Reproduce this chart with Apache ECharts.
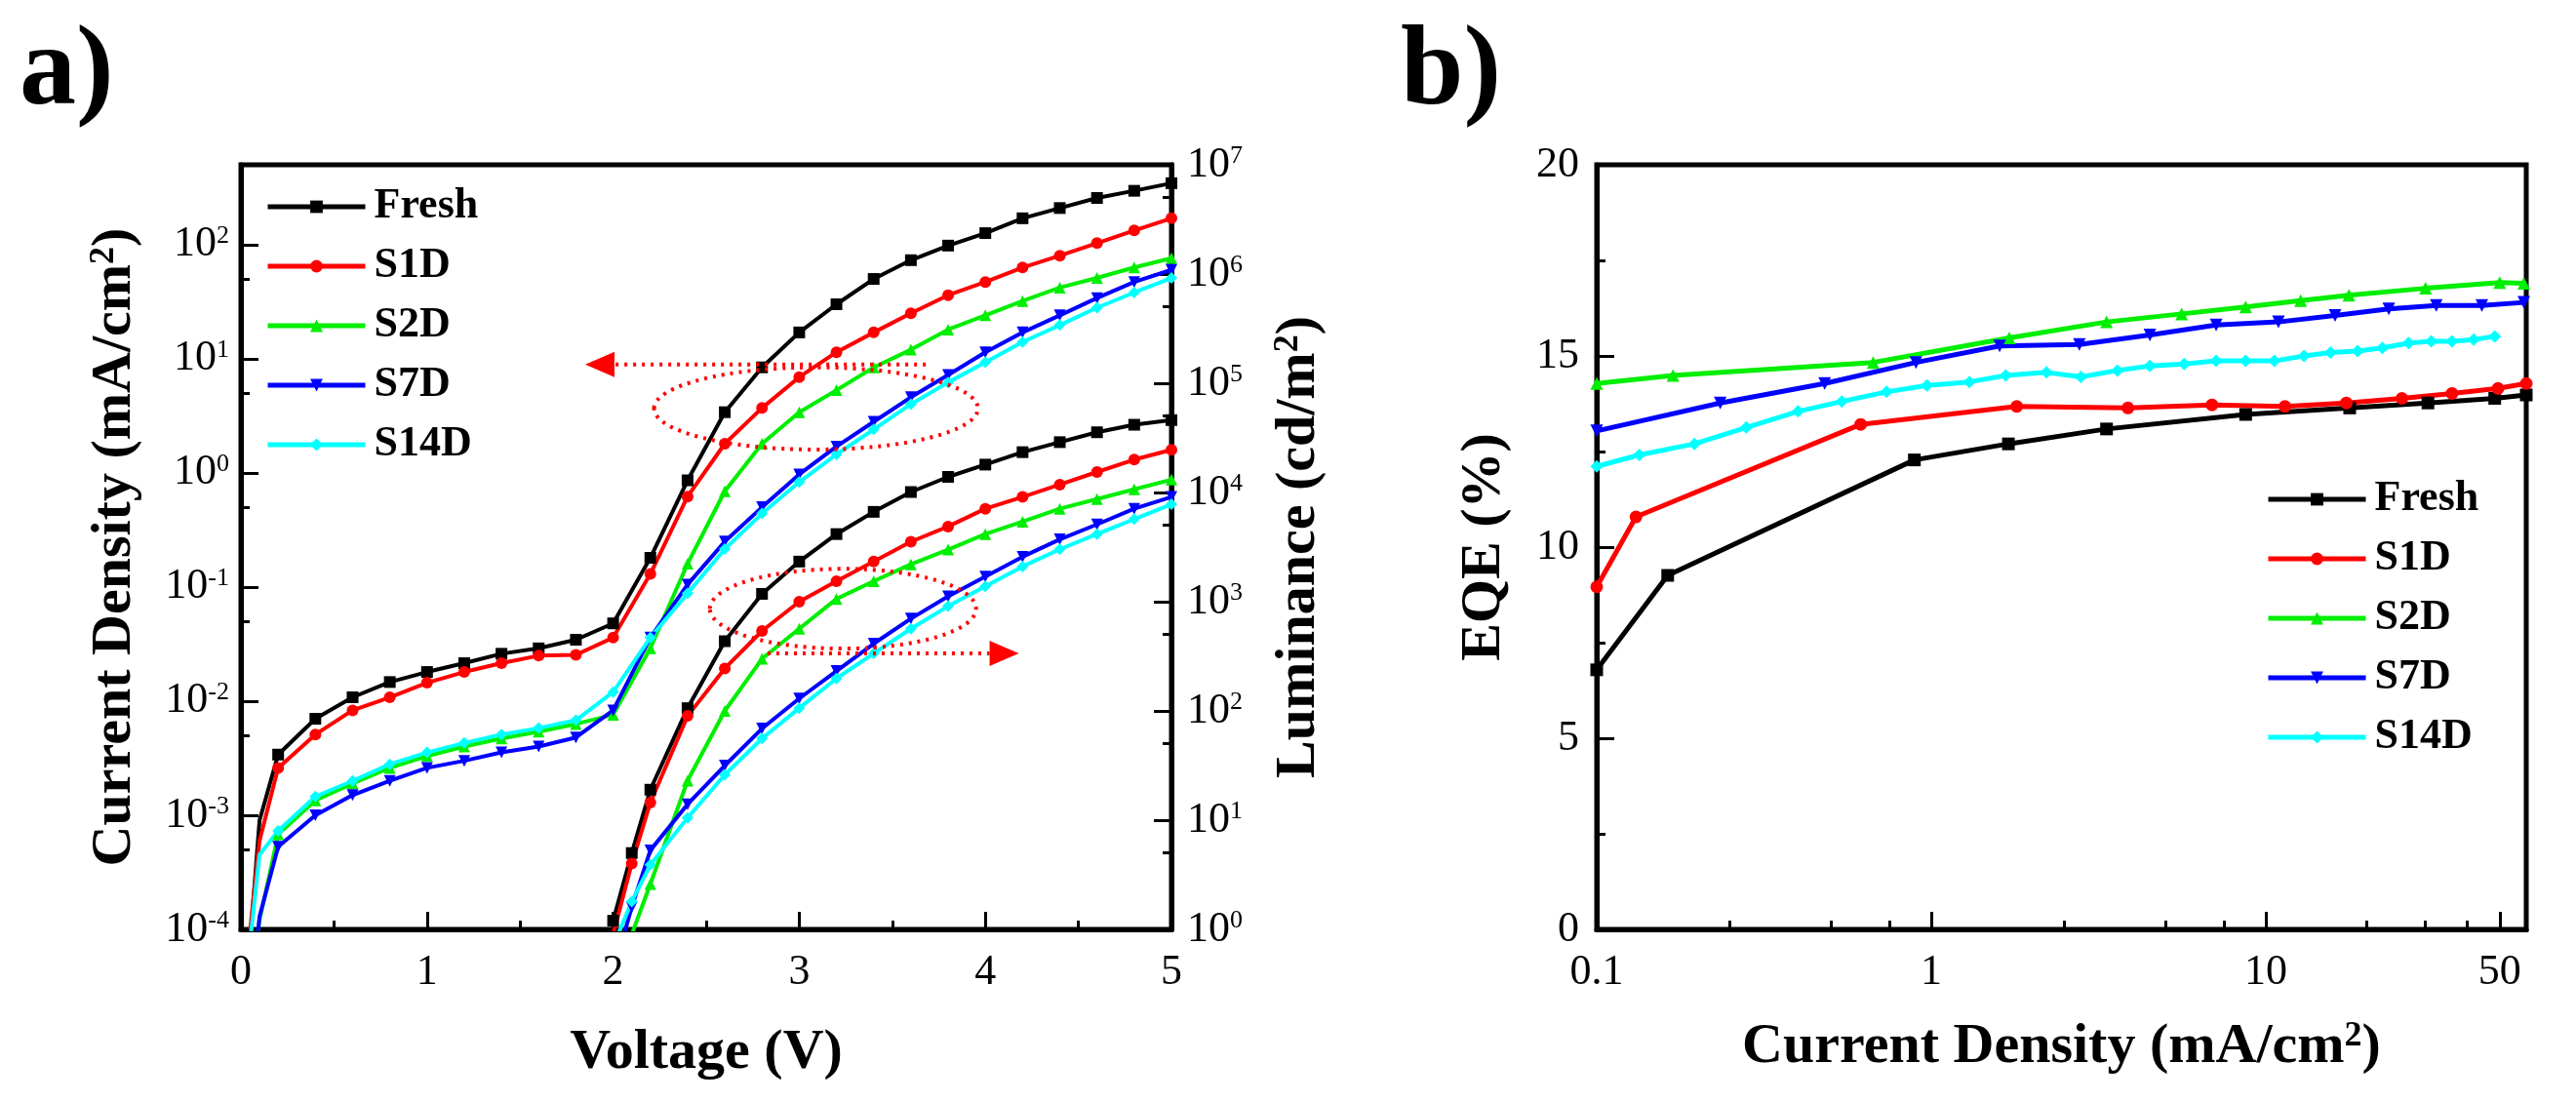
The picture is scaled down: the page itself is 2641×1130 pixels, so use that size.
<!DOCTYPE html>
<html>
<head>
<meta charset="utf-8">
<script src="https://cdn.jsdelivr.net/npm/echarts@6/dist/echarts.min.js"></script>
<style>
html, body { margin: 0; padding: 0; background: #fff; }
#main { width: 2641px; height: 1130px; }
</style>
</head>
<body>
<div id="main"></div>
<script>
// sample names / look
var names = ['Fresh', 'S1D', 'S2D', 'S7D', 'S14D'];
var colors = ['#000000', '#ff0000', '#00ee00', '#0000ff', '#00ffff'];
var symbols = ['rect', 'circle', 'triangle', 'triangle', 'diamond'];
var rotates = [0, 0, 0, 180, 0];

// a) current density vs voltage (mA/cm2)
var jVolts = [0.05, 0.1, 0.2, 0.4, 0.6, 0.8, 1.0, 1.2, 1.4, 1.6, 1.8, 2.0, 2.2, 2.4, 2.6, 2.8, 3.0, 3.2, 3.4, 3.6, 3.8, 4.0, 4.2, 4.4, 4.6, 4.8, 5.0];
var jFresh = [8e-5, 9e-4, 3.4e-3, 7e-3, 1.08e-2, 1.47e-2, 1.8e-2, 2.15e-2, 2.6e-2, 2.9e-2, 3.45e-2, 4.8e-2, 0.18, 0.86, 3.4, 8.4, 17, 30, 50, 73, 98, 126, 170, 209, 256, 296, 345];
var jS1D = [1.0e-4, 6e-4, 2.6e-3, 5.1e-3, 8.3e-3, 1.08e-2, 1.45e-2, 1.8e-2, 2.15e-2, 2.5e-2, 2.54e-2, 3.6e-2, 0.13, 0.62, 1.8, 3.7, 6.9, 11.4, 17, 25, 36, 47, 63, 80, 103, 133, 170];
var jS2D = [3e-5, 1.2e-4, 6.8e-4, 1.35e-3, 1.9e-3, 2.6e-3, 3.3e-3, 4.0e-3, 4.7e-3, 5.4e-3, 6.3e-3, 7.6e-3, 0.029, 0.16, 0.69, 1.8, 3.4, 5.3, 8.4, 12, 18, 24, 32, 42, 51, 63, 76];
var jS7D = [2e-5, 1.3e-4, 5.3e-4, 1.0e-3, 1.5e-3, 2.0e-3, 2.6e-3, 3.0e-3, 3.55e-3, 4.0e-3, 4.8e-3, 8.3e-3, 0.036, 0.105, 0.25, 0.50, 0.97, 1.7, 2.8, 4.6, 7.2, 11.4, 17, 24, 34, 47, 60];
var jS14D = [8e-5, 4.5e-4, 7.3e-4, 1.46e-3, 2.0e-3, 2.8e-3, 3.55e-3, 4.3e-3, 5.1e-3, 5.8e-3, 6.8e-3, 0.012, 0.036, 0.088, 0.215, 0.44, 0.83, 1.45, 2.4, 4.0, 6.2, 9.3, 14, 19.7, 28, 38, 51];

// a) luminance vs voltage (cd/m2)
var lVolts = [2.0, 2.1, 2.2, 2.4, 2.6, 2.8, 3.0, 3.2, 3.4, 3.6, 3.8, 4.0, 4.2, 4.4, 4.6, 4.8, 5.0];
var lFresh = [1.2, 5, 19, 106, 435, 1180, 2330, 4160, 6650, 10100, 13900, 18000, 23400, 28900, 35600, 41700, 46000];
var lS1D = [0.9, 4.0, 14.5, 90, 245, 540, 1000, 1540, 2330, 3540, 4880, 7100, 9100, 11800, 15400, 20000, 24600];
var lS2D = [0.25, 0.9, 2.6, 23, 100, 300, 565, 1060, 1540, 2200, 3000, 4160, 5400, 7100, 8700, 10700, 13100];
var lS7D = [0.4, 1.6, 5.3, 14, 31.6, 69, 130, 232, 413, 700, 1120, 1700, 2580, 3720, 5100, 7100, 9100];
var lS14D = [0.7, 1.8, 3.9, 10.5, 26, 56, 106, 198, 336, 565, 910, 1380, 2100, 3020, 4160, 5700, 7800];

// b) EQE (%) vs current density
var eqeJFresh = [0.1, 0.163, 0.89, 1.7, 3.34, 8.7, 17.8, 30.5, 48.3, 60];
var eqeFresh = [6.79, 9.26, 12.28, 12.7, 13.09, 13.47, 13.64, 13.77, 13.89, 13.98];
var eqeJS1D = [0.1, 0.131, 0.615, 1.80, 3.87, 6.9, 11.4, 17.4, 25.5, 36, 49.4, 60];
var eqeS1D = [8.96, 10.79, 13.21, 13.68, 13.64, 13.72, 13.68, 13.77, 13.89, 14.02, 14.15, 14.28];
var eqeJS2D = [0.1, 0.169, 0.67, 1.71, 3.34, 5.6, 8.7, 12.7, 17.7, 30, 50, 59];
var eqeS2D = [14.28, 14.49, 14.83, 15.47, 15.89, 16.1, 16.28, 16.45, 16.59, 16.77, 16.92, 16.9];
var eqeJS7D = [0.1, 0.234, 0.48, 0.90, 1.60, 2.77, 4.5, 7.1, 10.9, 16.1, 23.3, 32.3, 44.2, 59];
var eqeS7D = [13.04, 13.77, 14.28, 14.83, 15.26, 15.30, 15.55, 15.81, 15.89, 16.06, 16.23, 16.32, 16.32, 16.4];
var eqeJS14D = [0.1, 0.134, 0.196, 0.28, 0.40, 0.54, 0.735, 0.97, 1.30, 1.67, 2.21, 2.8, 3.6, 4.5, 5.7, 7.1, 8.7, 10.6, 13.0, 15.6, 18.8, 22.3, 26.7, 31.2, 36, 41.8, 48.3];
var eqeS14D = [12.11, 12.41, 12.70, 13.13, 13.55, 13.81, 14.06, 14.23, 14.32, 14.49, 14.57, 14.45, 14.62, 14.74, 14.79, 14.87, 14.87, 14.87, 15.0, 15.09, 15.13, 15.21, 15.34, 15.38, 15.38, 15.43, 15.51];

// tick values
var jTicks = [1e-4, 1e-3, 1e-2, 1e-1, 1, 10, 100];
var jMinor = [5e-4, 5e-3, 5e-2, 0.5, 5, 50];
var lTicks = [1, 10, 100, 1e3, 1e4, 1e5, 1e6, 1e7];
var lMinor = [5, 50, 500, 5e3, 5e4, 5e5, 5e6];
var eqeXTicks = [0.1, 1, 10, 50];
var eqeXMinor = [0.25, 0.5, 0.75, 2.5, 5, 7.5, 20, 30, 40];

// dotted "which axis" markers in panel a
var ellipseJ = { v: [2.22, 3.96], y: [1.6, 8.4] };
var arrowJ = { v: [3.68, 1.85], y: 8.9 };
var ellipseL = { v: [2.52, 3.95], y: [372, 2000] };
var arrowL = { v: [2.83, 4.18], y: 336 };

var FONT = '"Liberation Serif", "Times New Roman", serif';
var jData = [jFresh, jS1D, jS2D, jS7D, jS14D];
var lData = [lFresh, lS1D, lS2D, lS7D, lS14D];
var eqeJ = [eqeJFresh, eqeJS1D, eqeJS2D, eqeJS7D, eqeJS14D];
var eqeV = [eqeFresh, eqeS1D, eqeS2D, eqeS7D, eqeS14D];

var lineAx = { show: true, onZero: false, lineStyle: { color: '#000', width: 5 } };
var tickAx = { show: true, inside: true, length: 18, lineStyle: { color: '#000', width: 3 } };
var minorAx = { show: true, splitNumber: 2, length: 9, lineStyle: { color: '#000', width: 3 } };
var labelFont = { fontFamily: FONT, fontSize: 44, color: '#000' };
var titleFont = { fontFamily: FONT, fontSize: 58, fontWeight: 'bold', color: '#000',
    rich: { s: { fontFamily: FONT, fontSize: 36, fontWeight: 'bold', color: '#000', verticalAlign: 'top' } } };
var supRich = { s: { fontFamily: FONT, fontSize: 26, color: '#000', verticalAlign: 'top' } };

function powLabel(v) {
    return '10{s|' + Math.round(Math.log10(v)) + '}';
}

function minorAxis(grid, type, min, max, vals, pos) {
    return {
        gridIndex: grid, type: type, logBase: 10, min: min, max: max, position: pos,
        axisLine: { show: false }, axisLabel: { show: false }, splitLine: { show: false },
        axisTick: { show: true, inside: true, length: 9, customValues: vals, lineStyle: { color: '#000', width: 3 } }
    };
}

// no markers on the first sub-0.2 V points (the original only marks every 0.2 V)
function jSymbolSize(val) {
    return val[0] < 0.15 ? 0 : 12;
}

var series = [];
names.forEach(function (n, k) {
    var common = {
        name: n, type: 'line', symbol: symbols[k], symbolRotate: rotates[k],
        showAllSymbol: true, animation: false, clip: true,
        itemStyle: { color: colors[k] }
    };
    series.push(Object.assign({}, common, {
        xAxisIndex: 0, yAxisIndex: 0, symbolSize: jSymbolSize,
        lineStyle: { width: 4, color: colors[k] },
        data: jVolts.map(function (v, i) { return [v, jData[k][i]]; })
    }));
    series.push(Object.assign({}, common, {
        xAxisIndex: 0, yAxisIndex: 1, symbolSize: 12,
        lineStyle: { width: 4, color: colors[k] },
        data: lVolts.map(function (v, i) { return [v, lData[k][i]]; })
    }));
    series.push(Object.assign({}, common, {
        xAxisIndex: 1, yAxisIndex: 4, symbolSize: 13,
        lineStyle: { width: 5, color: colors[k] },
        data: eqeJ[k].map(function (v, i) { return [v, eqeV[k][i]]; })
    }));
});

var legendBase = {
    data: names, orient: 'vertical', itemWidth: 100, itemHeight: 16, itemGap: 17,
    selectedMode: false,
    lineStyle: { width: 5 },
    textStyle: { fontFamily: FONT, fontSize: 44, fontWeight: 'bold', color: '#000', lineHeight: 44, padding: [0, 0, 0, 4] }
};

var chart = echarts.init(document.getElementById('main'));
chart.setOption({
    backgroundColor: '#fff',
    animation: false,
    grid: [
        { left: 247, top: 169, width: 954, height: 784, show: true, borderColor: '#000', borderWidth: 5, backgroundColor: 'transparent' },
        { left: 1637, top: 169, width: 953, height: 784, show: true, borderColor: '#000', borderWidth: 5, backgroundColor: 'transparent' }
    ],
    legend: [
        Object.assign({}, legendBase, { left: 267, top: 185 }),
        Object.assign({}, legendBase, { left: 2318, top: 485 })
    ],
    xAxis: [
        {
            gridIndex: 0, type: 'value', min: 0, max: 5, interval: 1,
            axisLine: lineAx, axisTick: tickAx, minorTick: minorAx,
            axisLabel: Object.assign({ margin: 22 }, labelFont),
            splitLine: { show: false },
            name: 'Voltage (V)', nameLocation: 'middle', nameGap: 98, nameTextStyle: titleFont
        },
        {
            gridIndex: 1, type: 'log', logBase: 10, min: 0.1, max: 60,
            axisLine: lineAx,
            axisTick: Object.assign({}, tickAx, { customValues: eqeXTicks }),
            axisLabel: Object.assign({ margin: 22, customValues: eqeXTicks, formatter: function (v) {
                return v < 1 ? v.toFixed(1) : String(Math.round(v));
            } }, labelFont),
            splitLine: { show: false },
            name: 'Current Density (mA/cm{s|2})', nameLocation: 'middle', nameGap: 92, nameTextStyle: titleFont
        },
        minorAxis(1, 'log', 0.1, 60, eqeXMinor, 'bottom')
    ],
    yAxis: [
        {
            gridIndex: 0, type: 'log', logBase: 10, min: 1e-4, max: 500, position: 'left',
            axisLine: lineAx,
            axisTick: Object.assign({}, tickAx, { customValues: jTicks }),
            axisLabel: Object.assign({ margin: 12, customValues: jTicks, formatter: powLabel, rich: supRich }, labelFont),
            splitLine: { show: false },
            name: 'Current Density (mA/cm{s|2})', nameLocation: 'middle', nameGap: 100, nameTextStyle: titleFont
        },
        {
            gridIndex: 0, type: 'log', logBase: 10, min: 1, max: 1e7, position: 'right',
            axisLine: lineAx,
            axisTick: Object.assign({}, tickAx, { customValues: lTicks }),
            axisLabel: Object.assign({ margin: 16, customValues: lTicks, formatter: powLabel, rich: supRich }, labelFont),
            splitLine: { show: false },
            name: 'Luminance (cd/m{s|2})', nameLocation: 'middle', nameGap: 102, nameTextStyle: titleFont
        },
        minorAxis(0, 'log', 1e-4, 500, jMinor, 'left'),
        minorAxis(0, 'log', 1, 1e7, lMinor, 'right'),
        {
            gridIndex: 1, type: 'value', min: 0, max: 20, interval: 5,
            axisLine: lineAx, axisTick: tickAx, minorTick: minorAx,
            axisLabel: Object.assign({ margin: 18 }, labelFont),
            splitLine: { show: false },
            name: 'EQE (%)', nameLocation: 'middle', nameGap: 86, nameTextStyle: titleFont
        }
    ],
    series: series
});

// panel letters and the dotted ellipse/arrow markers
function px(yAxisIndex, v, y) {
    return chart.convertToPixel({ xAxisIndex: 0, yAxisIndex: yAxisIndex }, [v, y]);
}
function ellipseShape(yi, e) {
    var a = px(yi, e.v[0], e.y[0]), b = px(yi, e.v[1], e.y[1]);
    return { cx: (a[0] + b[0]) / 2, cy: (a[1] + b[1]) / 2, rx: Math.abs(b[0] - a[0]) / 2, ry: Math.abs(b[1] - a[1]) / 2 };
}
function arrowParts(yi, ar) {
    var s = px(yi, ar.v[0], ar.y), t = px(yi, ar.v[1], ar.y);
    var dir = t[0] > s[0] ? 1 : -1;
    var base = t[0] - dir * 30;
    return [
        { type: 'line', z: 50, shape: { x1: s[0], y1: s[1], x2: base, y2: t[1] },
          style: { stroke: '#ff0000', lineWidth: 4, lineDash: [3, 6] } },
        { type: 'polygon', z: 50, shape: { points: [[t[0], t[1]], [base, t[1] - 13], [base, t[1] + 13]] },
          style: { fill: '#ff0000' } }
    ];
}
var dotted = { fill: null, stroke: '#ff0000', lineWidth: 4, lineDash: [3, 6] };
var graphics = [
    { type: 'text', left: 20, top: 18, style: { text: 'a)', font: 'bold 116px ' + FONT, fill: '#000' } },
    { type: 'text', left: 1436, top: 18, style: { text: 'b)', font: 'bold 116px ' + FONT, fill: '#000' } },
    { type: 'ellipse', z: 50, shape: ellipseShape(0, ellipseJ), style: dotted },
    { type: 'ellipse', z: 50, shape: ellipseShape(1, ellipseL), style: dotted }
].concat(arrowParts(0, arrowJ)).concat(arrowParts(1, arrowL));
chart.setOption({ graphic: graphics });
</script>
</body>
</html>
